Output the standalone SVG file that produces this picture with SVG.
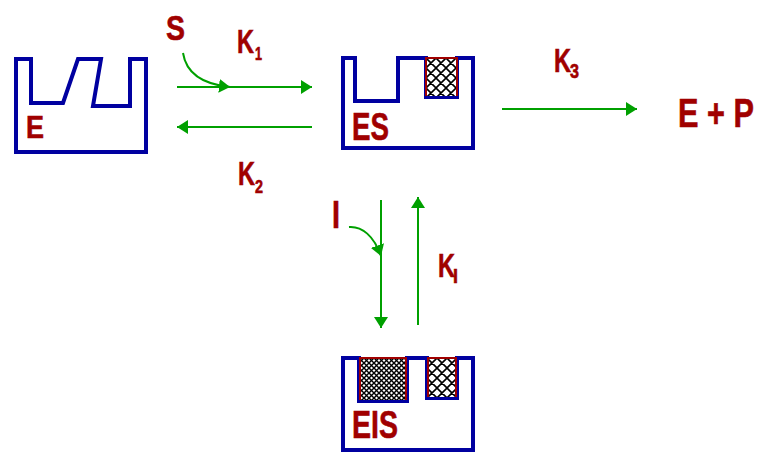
<svg xmlns="http://www.w3.org/2000/svg" width="761" height="453" viewBox="0 0 761 453">
  <style>
    .box { fill: none; stroke: #0000a0; stroke-width: 4; stroke-linejoin: miter; }
    .site { stroke: #a00000; stroke-width: 2; }
    .lbl { font-family: "Liberation Sans", Arial, sans-serif; font-weight: bold; fill: #a00000; stroke: #a00000; stroke-width: 0.6; }
    .conn { fill: none; stroke: #00a000; stroke-width: 2; }
  </style>
  <defs>
    <pattern id="hatch" patternUnits="userSpaceOnUse" width="10" height="10" x="426" y="58">
      <rect width="10" height="10" fill="#fff"/>
      <path d="M0,0 L10,10 M10,0 L0,10 M-1,9 L1,11 M9,-1 L11,1 M9,11 L11,9 M-1,1 L1,-1" stroke="#000" stroke-width="1.6"/>
    </pattern>
    <pattern id="hatch2" patternUnits="userSpaceOnUse" width="10" height="10" x="427" y="358">
      <rect width="10" height="10" fill="#fff"/>
      <path d="M0,0 L10,10 M10,0 L0,10 M-1,9 L1,11 M9,-1 L11,1 M9,11 L11,9 M-1,1 L1,-1" stroke="#000" stroke-width="1.6"/>
    </pattern>
    <pattern id="dense" patternUnits="userSpaceOnUse" width="5" height="5" x="359" y="358">
      <rect width="5" height="5" fill="#fff"/>
      <path d="M0,0 L5,5 M5,0 L0,5" stroke="#000" stroke-width="1.4"/>
    </pattern>
    <marker id="ah" viewBox="0 0 11 14" refX="11" refY="7" markerWidth="11" markerHeight="14" markerUnits="userSpaceOnUse" orient="auto">
      <path d="M0,0 L11,7 L0,14 Z" fill="#00a000"/>
    </marker>
  </defs>

  <g id="node-E">
    <path class="box" d="M16,59 H31 V103 H63 L78,59 H101 L93,106 H130 V59 H146 V152 H16 Z"/>
    <text class="lbl" x="26" y="138" font-size="32" textLength="18" lengthAdjust="spacingAndGlyphs">E</text>
  </g>

  <g id="node-ES">
    <path class="box" d="M343,58 H355 V101 H398 V58 H426 V97 H457 V58 H473 V148 H343 Z"/>
    <path class="site" d="M426,96 V58 H457 V96" fill="url(#hatch)"/>
    <text class="lbl" x="352" y="140" font-size="38" textLength="37" lengthAdjust="spacingAndGlyphs">ES</text>
  </g>

  <g id="node-EIS">
    <path class="box" d="M343,358 H359 V401 H407 V358 H427 V398 H457 V358 H473 V450 H343 Z"/>
    <path class="site" d="M360,400 V358 H406 V400" fill="url(#dense)"/>
    <path class="site" d="M428,397 V358 H456 V397" fill="url(#hatch2)"/>
    <text class="lbl" x="352" y="438" font-size="38" textLength="46" lengthAdjust="spacingAndGlyphs">EIS</text>
  </g>

  <g id="node-EP">
    <text class="lbl" x="678" y="127" font-size="40" textLength="76" lengthAdjust="spacingAndGlyphs">E + P</text>
  </g>

  <g id="labels">
    <text class="lbl" x="166" y="40" font-size="35" textLength="19" lengthAdjust="spacingAndGlyphs">S</text>
    <text class="lbl" x="332" y="228" font-size="38" textLength="8" lengthAdjust="spacingAndGlyphs">I</text>
    <text class="lbl" x="237" y="53" font-size="34"><tspan textLength="17" lengthAdjust="spacingAndGlyphs">K</tspan><tspan x="255" y="60" font-size="18" textLength="7" lengthAdjust="spacingAndGlyphs">1</tspan></text>
    <text class="lbl" x="238" y="185" font-size="34"><tspan textLength="17" lengthAdjust="spacingAndGlyphs">K</tspan><tspan x="255" y="193" font-size="18" textLength="8" lengthAdjust="spacingAndGlyphs">2</tspan></text>
    <text class="lbl" x="554" y="72" font-size="33"><tspan textLength="17" lengthAdjust="spacingAndGlyphs">K</tspan><tspan x="570" y="78" font-size="21" textLength="9" lengthAdjust="spacingAndGlyphs">3</tspan></text>
    <text class="lbl" x="438" y="277" font-size="34"><tspan textLength="17" lengthAdjust="spacingAndGlyphs">K</tspan><tspan x="453" y="283" font-size="20" textLength="5" lengthAdjust="spacingAndGlyphs">I</tspan></text>
  </g>

  <g id="connectors">
    <path class="conn" d="M177,87 H312" marker-end="url(#ah)"/>
    <path class="conn" d="M183,53 C186,72 200,84 230,87" marker-end="url(#ah)"/>
    <path class="conn" d="M312,127 H177" marker-end="url(#ah)"/>
    <path class="conn" d="M502,109 H637" marker-end="url(#ah)"/>
    <path class="conn" d="M381,200 V328" marker-end="url(#ah)"/>
    <path class="conn" d="M349,227 C362,226 374,236 381,256" marker-end="url(#ah)"/>
    <path class="conn" d="M418,325 V197" marker-end="url(#ah)"/>
  </g>
</svg>
